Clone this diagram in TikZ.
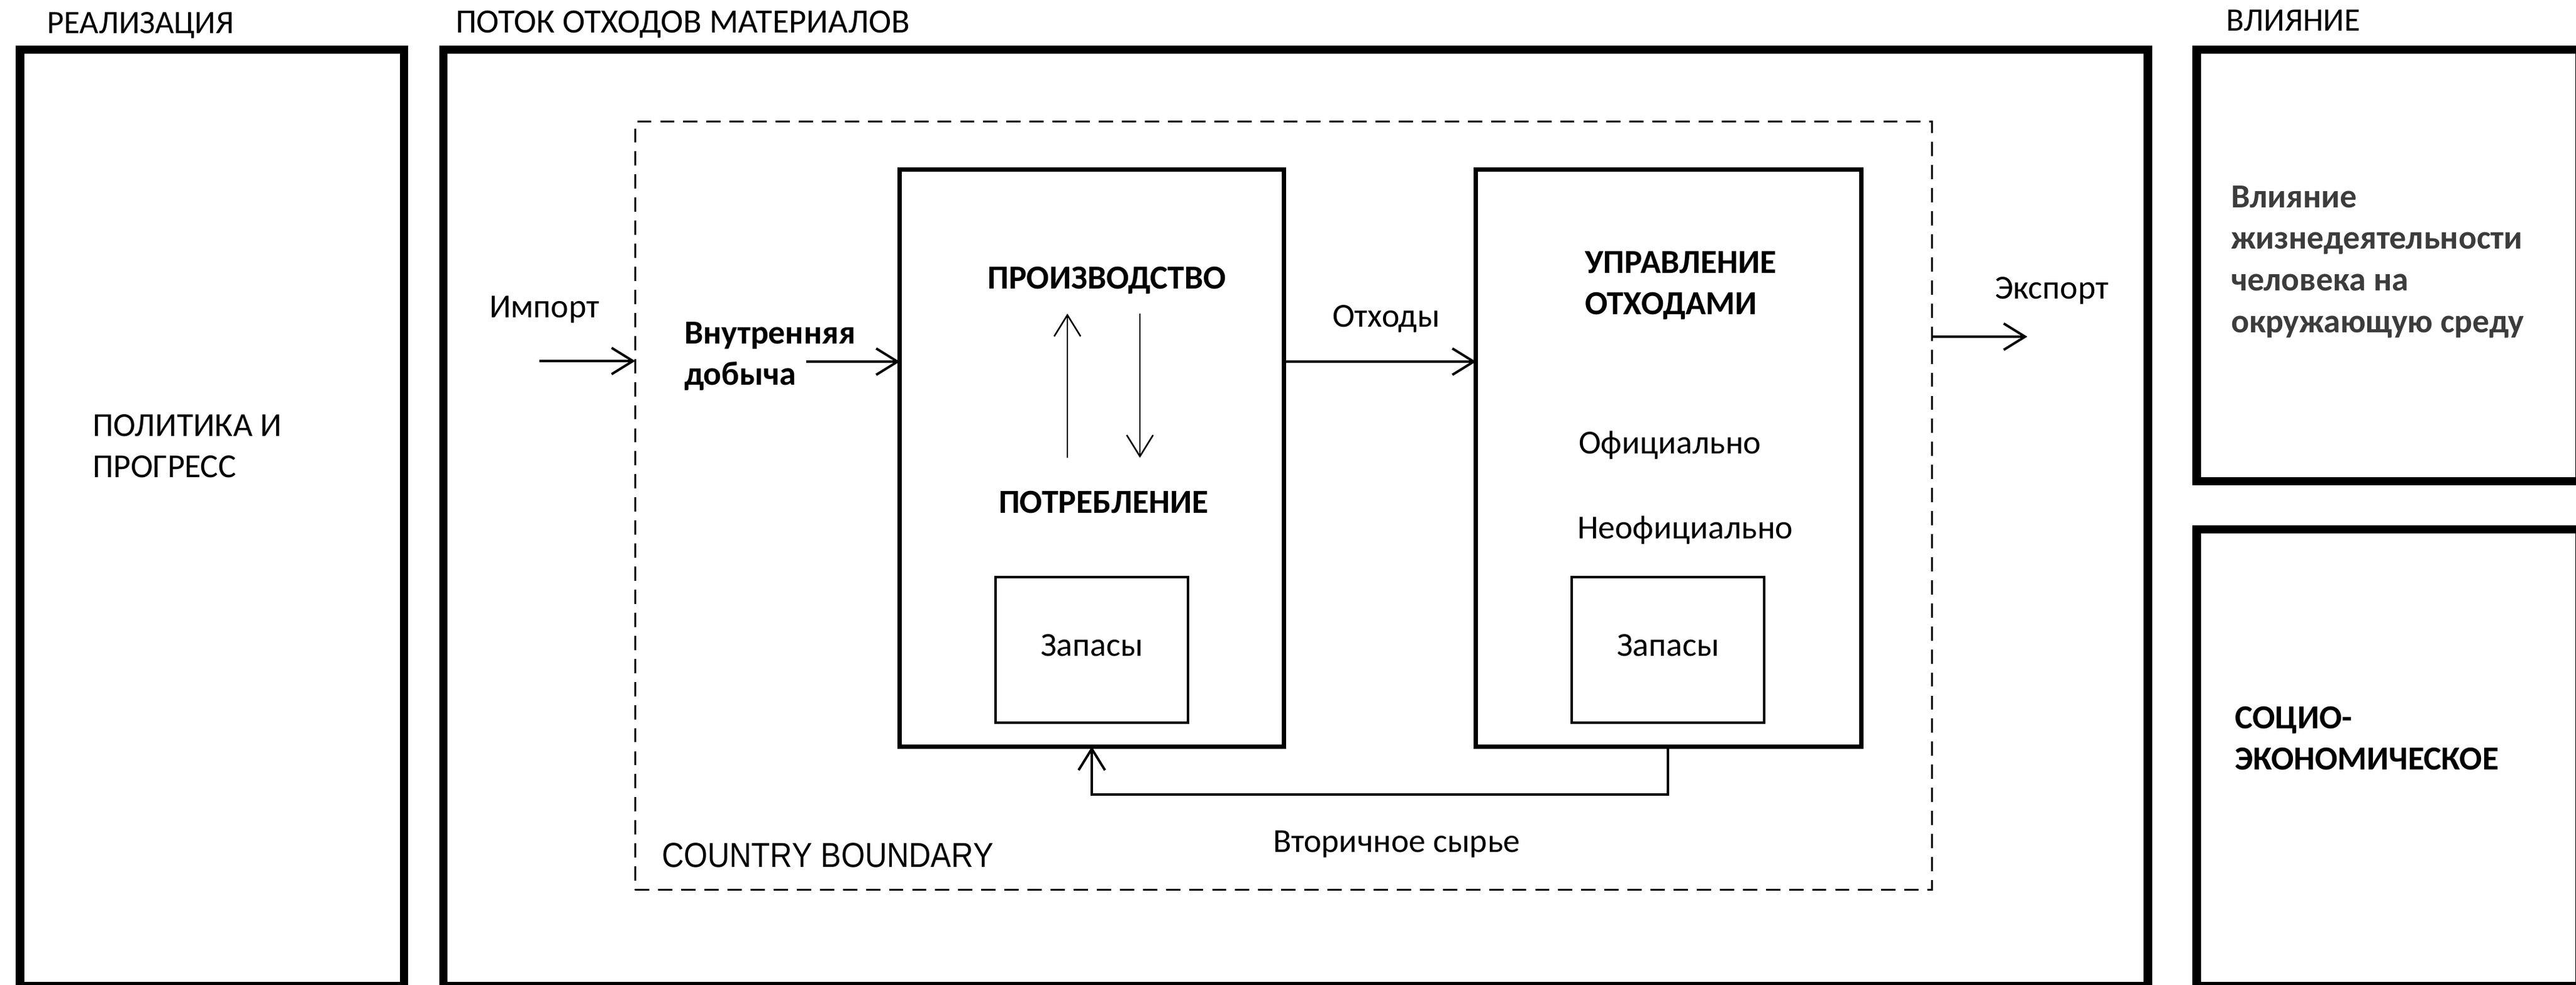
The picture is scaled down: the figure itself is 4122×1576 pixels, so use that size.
\documentclass[tikz,border=0pt]{standalone}
\usepackage{fontspec}
\setmainfont{Carlito}
\newfontfamily\cbfont[FakeStretch=0.88]{Liberation Sans}
\usetikzlibrary{arrows.meta}
\definecolor{impactgray}{RGB}{60,60,60}
\newcommand{\mylines}[1]{\begin{tabular}[t]{@{}l@{}}#1\end{tabular}}
\newcommand{\myfs}{\fontsize{15.3pt}{19pt}\selectfont}
\begin{document}
\begin{tikzpicture}[x=0.01cm,y=-0.01cm,
  font=\myfs,
  bigbox/.style={draw, line width=3.8pt, inner sep=0pt, outer sep=0pt},
  procbox/.style={draw, line width=2pt, inner sep=0pt, outer sep=0pt},
  stockbox/.style={draw, line width=1.1pt, inner sep=0pt, outer sep=0pt},
  bound/.style={draw, line width=0.85pt, dash pattern=on 6.5pt off 4pt, inner sep=0pt, outer sep=0pt},
  lbl/.style={inner sep=0pt, outer sep=0pt},
  title/.style={font=\fontsize{14.9pt}{19pt}\selectfont},
  bold/.style={font=\myfs\bfseries},
  arr/.style={line width=1.1pt, -{Straight Barb[length=9.7pt,width=12pt,line width=1.1pt]}},
  thinarr/.style={line width=0.7pt, -{Straight Barb[length=9.7pt,width=12pt,line width=0.7pt]}}
]
\useasboundingbox (0,0) rectangle (4122,1576);

% big frames
\node[bigbox, minimum width=6.14cm, minimum height=14.98cm] (policy) at (339,829) {};
\node[bigbox, minimum width=27.26cm, minimum height=14.98cm] (flow) at (2073,829) {};
\node[bigbox, minimum width=6.12cm, minimum height=6.90cm] (impact) at (3821,425) {};
\node[bigbox, minimum width=6.12cm, minimum height=7.30cm] (socio) at (3821,1213) {};

% country boundary
\node[bound, minimum width=20.74cm, minimum height=12.29cm] (boundary) at (2054,809.5) {};

% process boxes
\node[procbox, minimum width=6.14cm, minimum height=9.23cm] (prod) at (1747,733.5) {};
\node[procbox, minimum width=6.16cm, minimum height=9.23cm] (waste) at (2670,733.5) {};
\node[stockbox, minimum width=3.08cm, minimum height=2.33cm] (stock1) at (1747,1040.5) {};
\node[stockbox, minimum width=3.08cm, minimum height=2.33cm] (stock2) at (2669,1040.5) {};

% titles
\node[lbl, anchor=base west, title] (t1) at (75,54) {РЕАЛИЗАЦИЯ};
\node[lbl, anchor=base west, font=\fontsize{15.45pt}{19pt}\selectfont] (t2) at (729,53) {ПОТОК ОТХОДОВ МАТЕРИАЛОВ};
\node[lbl, anchor=base west, title] (t3) at (3562,50) {ВЛИЯНИЕ};

% texts
\node[lbl, anchor=base west] (poltxt) at (148,698) {\mylines{ПОЛИТИКА И\\ПРОГРЕСС}};
\node[lbl, anchor=base west] (imptxt) at (783,508) {Импорт};
\node[lbl, anchor=base west, bold] (dobtxt) at (1095,550) {\mylines{Внутренняя\\добыча}};
\node[lbl, anchor=base, bold] (prodtxt) at (1771,462) {ПРОИЗВОДСТВО};
\node[lbl, anchor=base, bold] (constxt) at (1766,821) {ПОТРЕБЛЕНИЕ};
\node[lbl, anchor=base] (wastetxt) at (2218,523) {Отходы};
\node[lbl, anchor=base west, bold] (wmtxt) at (2536,437) {\mylines{УПРАВЛЕНИЕ\\ОТХОДАМИ}};
\node[lbl, anchor=base west] (offtxt) at (2526,726) {Официально};
\node[lbl, anchor=base west] (inofftxt) at (2524,862) {Неофициально};
\node[lbl, anchor=base] (st1txt) at (1747,1050) {Запасы};
\node[lbl, anchor=base] (st2txt) at (2669,1050) {Запасы};
\node[lbl, anchor=base west] (exptxt) at (3192,478) {Экспорт};
\node[lbl, anchor=base west] (sectxt) at (2037,1364) {Вторичное сырье};
\node[lbl, anchor=base west, font=\cbfont\fontsize{15.8pt}{19pt}\selectfont] (cbtxt) at (1059,1388) {COUNTRY BOUNDARY};
\node[lbl, anchor=base west, text=impactgray, bold] (imptext) at (3570,332) {\mylines{Влияние\\жизнедеятельности\\человека на\\окружающую среду}};
\node[lbl, anchor=base west, bold] (sociotxt) at (3576,1166) {\mylines{СОЦИО-\\ЭКОНОМИЧЕСКОЕ}};

% connector helpers
\coordinate (impstart) at (863,578);
\coordinate (dobstart) at (1290,579);
\coordinate (flowy) at (0,579);
\coordinate (expy) at (0,539);
\coordinate (expend) at (3244,539);
\coordinate (upbot) at (1708,733);
\coordinate (uptop) at (1708,502);
\coordinate (dntop) at (1824,502);
\coordinate (dnbot) at (1824,733);
\coordinate (recy) at (0,1272);

% connectors
\draw[arr] (impstart) -- (impstart -| boundary.west);
\draw[arr] (dobstart) -- (dobstart -| prod.west);
\draw[arr] (prod.east |- flowy) -- (waste.west |- flowy);
\draw[arr] (boundary.east |- expy) -- (expend);
\draw[thinarr] (upbot) -- (uptop);
\draw[thinarr] (dntop) -- (dnbot);
\draw[arr] (waste.south -| stock2) -- (recy -| stock2) -- (recy -| stock1) -- (prod.south -| stock1);
\end{tikzpicture}
\end{document}
